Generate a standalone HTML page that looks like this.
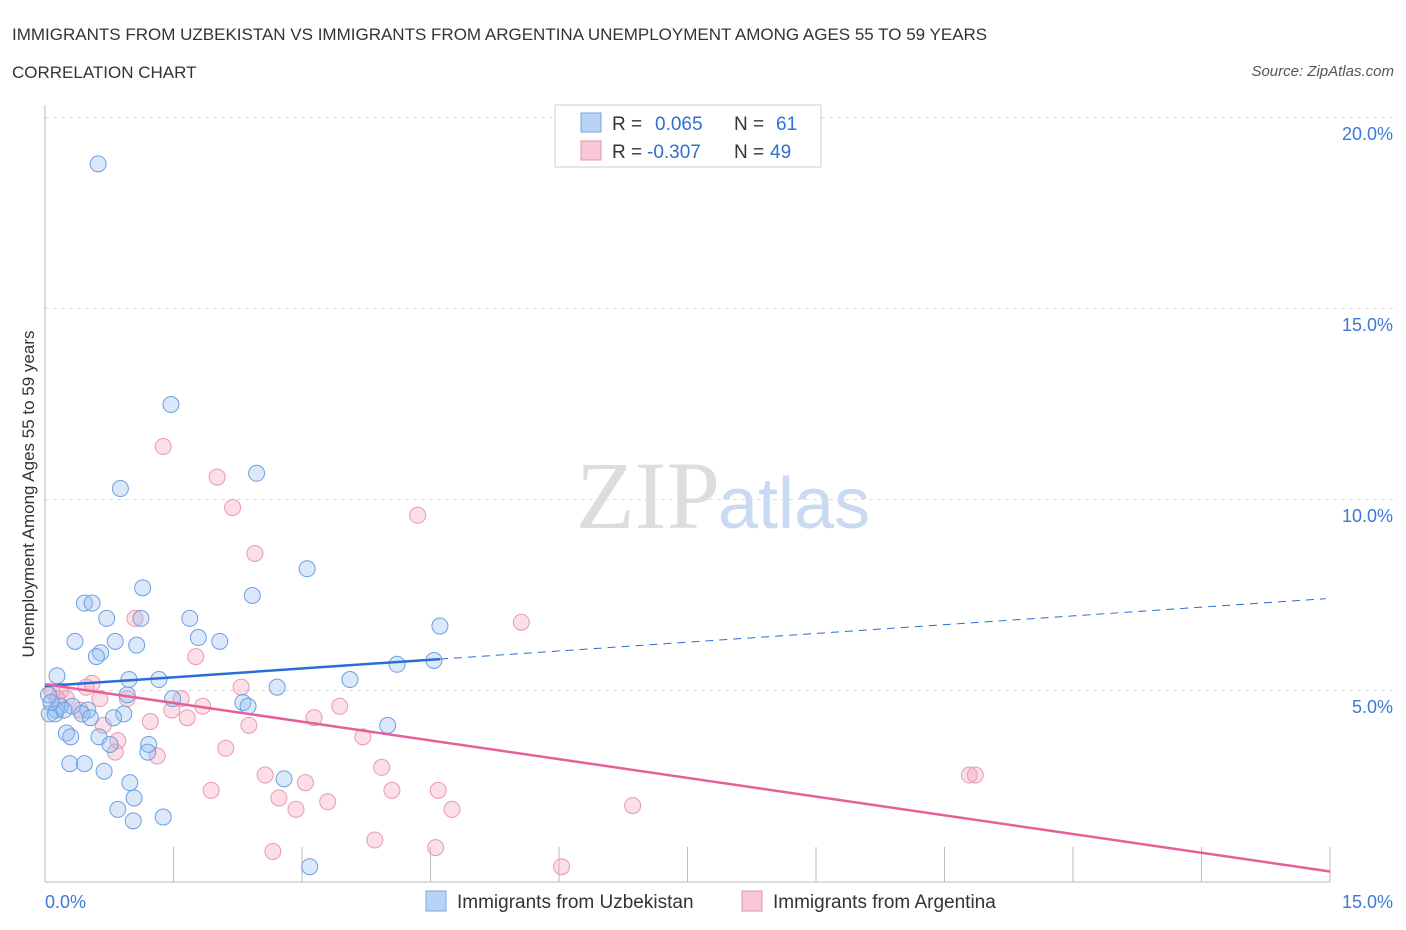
<!DOCTYPE html>
<html><head><meta charset="utf-8"><style>
body{margin:0;background:#fff;font-family:"Liberation Sans",sans-serif;}
svg{display:block}
</style></head><body>
<svg width="1406" height="930" id="chart">
<text x="12" y="40" font-size="17" fill="#333">IMMIGRANTS FROM UZBEKISTAN VS IMMIGRANTS FROM ARGENTINA UNEMPLOYMENT AMONG AGES 55 TO 59 YEARS</text>
<text x="12" y="78" font-size="17" fill="#333">CORRELATION CHART</text>
<text x="1394" y="76" font-size="15" font-style="italic" fill="#555" text-anchor="end">Source: ZipAtlas.com</text>
<text x="720" y="528" font-size="96" font-family="Liberation Serif" fill="#ddd" text-anchor="end">ZIP</text>
<text x="718" y="528" font-size="72" fill="#c9daf2">atlas</text>
<text transform="translate(34,494) rotate(-90)" font-size="17" fill="#333" text-anchor="middle">Unemployment Among Ages 55 to 59 years</text>
<g id="grid"></g><g id="pts"></g><g id="lines"></g>
<g>
<rect x="555" y="105" width="266" height="62" fill="#fff" stroke="#ccc"/>
<rect x="581" y="113" width="20" height="19" fill="#b8d3f5" stroke="#7aa7e0"/>
<text x="612" y="130" font-size="19" fill="#333">R = <tspan fill="#2f6fd0" x="655">0.065</tspan><tspan x="734" fill="#333">N =</tspan><tspan x="776" fill="#2f6fd0">61</tspan></text>
<rect x="581" y="141" width="20" height="19" fill="#f9c8d6" stroke="#e890aa"/>
<text x="612" y="158" font-size="19" fill="#333">R = <tspan fill="#2f6fd0" x="647">-0.307</tspan><tspan x="734" fill="#333">N =</tspan><tspan x="770" fill="#2f6fd0">49</tspan></text>
</g>
<g>
<rect x="426" y="891" width="20" height="20" fill="#b8d3f5" stroke="#7aa7e0"/>
<text x="457" y="908" font-size="19" fill="#333">Immigrants from Uzbekistan</text>
<rect x="742" y="891" width="20" height="20" fill="#f9c8d6" stroke="#e890aa"/>
<text x="773" y="908" font-size="19" fill="#333">Immigrants from Argentina</text>
</g>
</svg>
<script>
const yTicks=[5,10,15,20];
const xTickCount=10;
const blueX=[0.62,1.47,0.88,2.47,3.06,2.42,1.14,0.46,0.55,1.12,0.72,1.69,0.35,0.82,1.07,1.79,2.04,4.61,0.65,0.60,4.54,4.11,0.14,3.56,0.98,1.33,2.71,0.96,1.49,2.31,2.37,0.13,0.04,0.18,0.32,0.50,0.05,0.12,0.43,0.53,0.92,0.80,4.00,0.25,0.30,0.63,0.76,1.21,1.20,0.29,0.46,0.69,0.99,2.79,1.04,0.85,1.03,1.38,3.09,0.07,0.22];
const blueY=[18.8,12.5,10.3,10.7,8.2,7.5,7.7,7.3,7.3,6.9,6.9,6.9,6.3,6.3,6.2,6.4,6.3,6.7,6.0,5.9,5.8,5.7,5.4,5.3,5.3,5.3,5.1,4.9,4.8,4.7,4.6,4.5,4.9,4.6,4.6,4.5,4.4,4.4,4.4,4.3,4.4,4.3,4.1,3.9,3.8,3.8,3.6,3.6,3.4,3.1,3.1,2.9,2.6,2.7,2.2,1.9,1.6,1.7,0.4,4.7,4.5];
const pinkX=[1.38,2.01,2.19,4.35,2.45,5.56,1.05,1.76,0.55,0.48,0.18,0.25,0.96,1.59,2.29,1.48,1.84,3.44,1.66,1.23,3.14,2.38,0.68,3.71,0.85,2.11,1.31,0.82,3.93,2.57,10.79,10.86,3.04,1.94,4.05,4.59,2.73,3.30,2.93,4.75,6.86,3.85,2.66,4.56,6.03,0.08,0.14,0.41,0.64];
const pinkY=[11.4,10.6,9.8,9.6,8.6,6.8,6.9,5.9,5.2,5.1,5.0,4.8,4.8,4.8,5.1,4.5,4.6,4.6,4.3,4.2,4.3,4.1,4.1,3.8,3.7,3.5,3.3,3.4,3.0,2.8,2.8,2.8,2.6,2.4,2.4,2.4,2.2,2.1,1.9,1.9,2.0,1.1,0.8,0.9,0.4,5.0,4.8,4.5,4.8];
const X0=45,X1=1330,Y0=882,PY=38.2;
const sx=v=>X0+v/15*(X1-X0), sy=v=>Y0-v*PY;
const NS="http://www.w3.org/2000/svg";
function mk(t,a,p){const e=document.createElementNS(NS,t);for(const k in a)e.setAttribute(k,a[k]);p.appendChild(e);return e;}
const grid=document.getElementById('grid');
yTicks.forEach(v=>{
 const l=mk('line',{x1:X0,x2:1394,y1:sy(v)-0.5,y2:sy(v)-0.5,stroke:'#ddd','stroke-dasharray':'4,4'},grid);
 
 
 const t=mk('text',{x:1393,y:sy(v)+22,'font-size':18,fill:'#3d78d8','text-anchor':'end'},grid);
 t.textContent=v.toFixed(1)+'%';
 
 
});
const ax=mk('line',{x1:X0,x2:X1,y1:Y0,y2:Y0,stroke:'#bbb'},grid);


const ay=mk('line',{x1:X0,x2:X0,y1:105,y2:Y0,stroke:'#bbb'},grid);


for(let i=0;i<=xTickCount;i++){const x=X0+i*(X1-X0)/xTickCount;
 const tk=mk('line',{x1:x,x2:x,y1:Y0-35,y2:Y0,stroke:'#bbb'},grid);
 
 }
[[0,'0.0%',X0,'start'],[15,'15.0%',1393,'end']].forEach(d=>{
 const t=mk('text',{x:d[2],y:908,'font-size':18,fill:'#3d78d8','text-anchor':d[3]},grid);
 t.textContent=d[1];
 
 });
const pts=document.getElementById('pts');
pinkX.forEach((v,i)=>{const c=mk('circle',{cx:sx(v),cy:sy(pinkY[i]),r:8,fill:'rgba(244,160,185,0.35)',stroke:'#e89ab2','stroke-width':1},pts);
 
 });
blueX.forEach((v,i)=>{const c=mk('circle',{cx:sx(v),cy:sy(blueY[i]),r:8,fill:'rgba(150,190,240,0.35)',stroke:'#6d9fe0','stroke-width':1},pts);
 
 });
function fit(xs,ys){const n=xs.length,mx=xs.reduce((a,b)=>a+b)/n,my=ys.reduce((a,b)=>a+b)/n;let sxy=0,sxx=0;xs.forEach((x,i)=>{sxy+=(x-mx)*(ys[i]-my);sxx+=(x-mx)**2});const b=sxy/sxx;return[my-b*mx,b];}
const lines=document.getElementById('lines');
const [ba,bb]=fit(blueX,blueY),bmax=Math.max(...blueX);
const b1=mk('line',{x1:sx(0),y1:sy(ba),x2:sx(bmax),y2:sy(ba+bb*bmax),stroke:'#2a6dd6','stroke-width':2.5},lines);


const b2=mk('line',{x1:sx(bmax),y1:sy(ba+bb*bmax),x2:sx(14.95),y2:sy(ba+bb*14.95),stroke:'#2a6dd6','stroke-width':1,'stroke-dasharray':'8,6'},lines);


const [pa,pb]=fit(pinkX,pinkY);
const p1=mk('line',{x1:sx(0),y1:sy(pa),x2:sx(15),y2:sy(pa+pb*15),stroke:'#e5609a','stroke-width':2.5},lines);


</script>
</body></html>
